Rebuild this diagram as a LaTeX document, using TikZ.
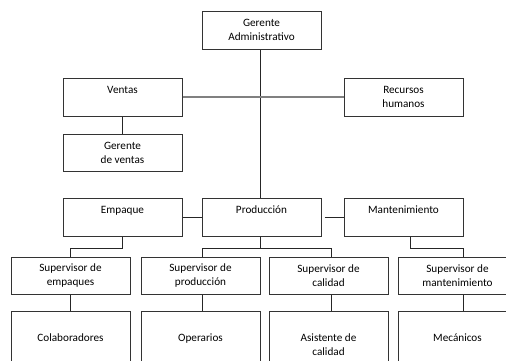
\documentclass[tikz,border=0pt]{standalone}
\usepackage{fontspec}
\setmainfont{Carlito}
\begin{document}
\begin{tikzpicture}[x=1pt,y=1pt,
  orgbox/.style={draw=black!80, line width=1pt, minimum width=119pt, minimum height=38pt,
    inner sep=0pt, align=center, font=\fontsize{11.2}{14}\selectfont, text=black},
  lowbox/.style={orgbox, minimum height=37pt},
  tallbox/.style={orgbox, minimum height=68pt},
  link/.style={draw=black!85, line width=0.9pt},
  greylink/.style={draw=black!50, line width=1.2pt}]
\useasboundingbox (0,0) rectangle (506,-360);
\clip (0,0) rectangle (506,-360);
\fill[white] (0,0) rectangle (506,-360);
% top
\node[orgbox] (ga) at (261.5,-30) {Gerente\\Administrativo};
\node[orgbox] (ventas) at (122.5,-97) {Ventas\\\phantom{X}};
\node[orgbox] (rh) at (403.5,-97) {Recursos\\humanos};
\node[lowbox] (gv) at (122.5,-152.5) {Gerente\\de ventas};
% middle
\node[orgbox] (emp) at (122.5,-217) {Empaque\\\phantom{X}};
\node[orgbox] (prod) at (261.5,-217) {Producción\\\phantom{X}};
\node[orgbox] (mant) at (403.5,-217) {Mantenimiento\\\phantom{X}};
% supervisors
\node[lowbox] (se) at (70.5,-275.5) {Supervisor de\\empaques};
\node[lowbox] (sp) at (200.5,-275.5) {Supervisor de\\producción};
\node[lowbox] (sc) at (328.5,-275.5) {Supervisor de\\calidad};
\node[lowbox] (sm) at (457.5,-275.5) {Supervisor de\\mantenimiento};
% bottom
\node[tallbox] (col) at (70.5,-345) {Colaboradores\\\phantom{X}};
\node[tallbox] (ope) at (200.5,-345) {Operarios\\\phantom{X}};
\node[tallbox] (asi) at (328.5,-345) {Asistente de\\calidad};
\node[tallbox] (mec) at (457.5,-345) {Mecánicos\\\phantom{X}};
\coordinate (bus) at (0,-248);
% connectors
\draw[link] ([xshift=-1.5pt]ga.south) -- ([xshift=-1.5pt]prod.north);
\draw[greylink] (ventas.east) -- (rh.west);
\draw[link] (ventas.south) -- (gv.north);
\draw[link] (emp.east) -- (prod.west);
\draw[link] ([xshift=3pt]prod.east) -- (mant.west);
\draw[link] (emp.south) -- (emp.south |- bus) -| (se.north);
\draw[link] ([xshift=-1.5pt]prod.south) -- ([xshift=-1.5pt]prod.south |- bus);
\draw[link] ([xshift=1.5pt]sp.north) -- ([xshift=1.5pt]sp.north |- bus) -- ([xshift=2.5pt]sc.north |- bus) -- ([xshift=2.5pt]sc.north);
\draw[link] ([xshift=7pt]mant.south) -- ([xshift=7pt]mant.south |- bus) -- ([xshift=5.5pt]sm.north |- bus) -- ([xshift=5.5pt]sm.north);
\draw[link] (se.south) -- (col.north);
\draw[link] ([xshift=1.5pt]sp.south) -- ([xshift=1.5pt]ope.north);
\draw[link] ([xshift=2.5pt]sc.south) -- ([xshift=2.5pt]asi.north);
\draw[link] ([xshift=5.5pt]sm.south) -- ([xshift=5.5pt]mec.north);
\end{tikzpicture}
\end{document}
